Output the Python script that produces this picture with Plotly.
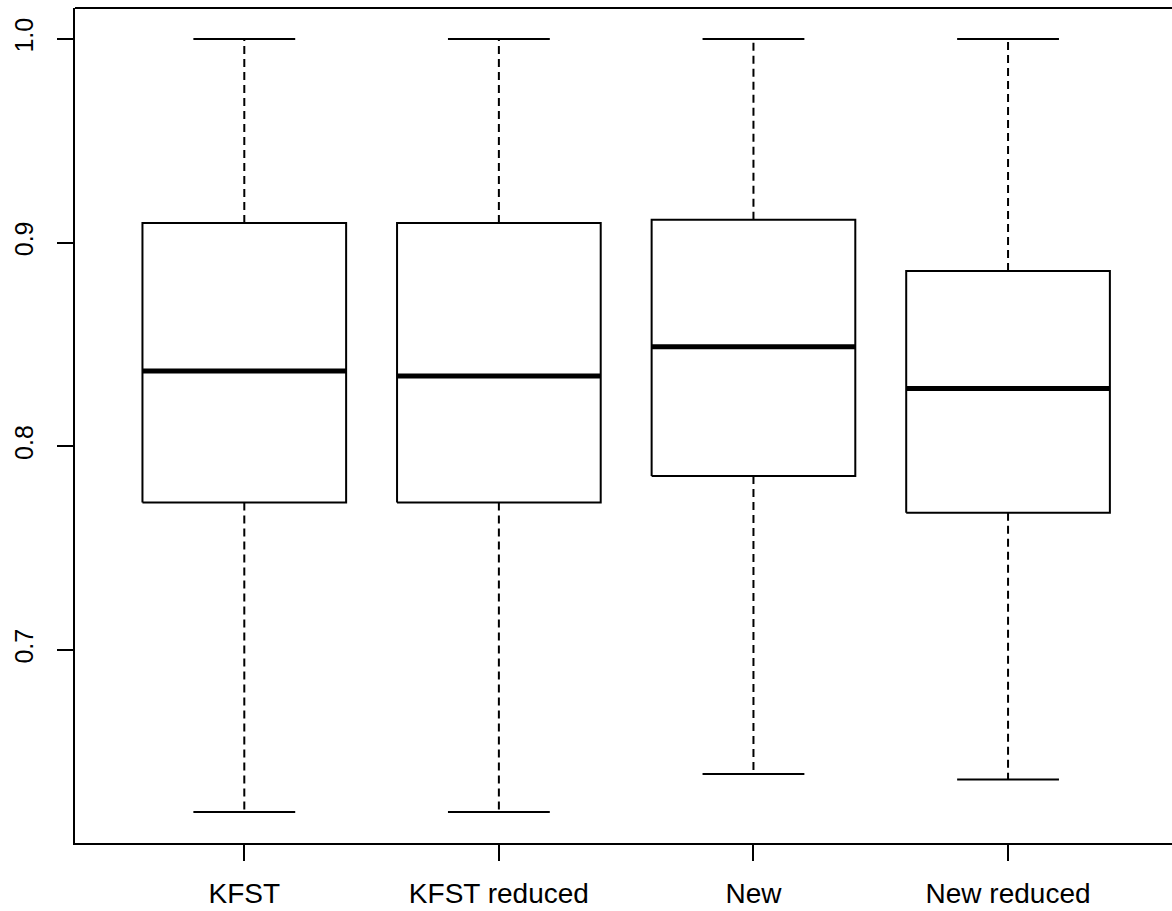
import plotly.graph_objects as go

categories = ["KFST", "KFST reduced", "New", "New reduced"]
lower_whisker = [0.6204, 0.6204, 0.6391, 0.6364]
q1_values = [0.7724, 0.7724, 0.7854, 0.7674]
median_values = [0.8369, 0.8345, 0.8489, 0.8284]
q3_values = [0.9096, 0.9096, 0.9112, 0.8861]
upper_whisker = [1.0, 1.0, 1.0, 1.0]
y_tick_values = [0.7, 0.8, 0.9, 1.0]
y_tick_labels = ["0.7", "0.8", "0.9", "1.0"]

BOX_HALF = 0.4
CAP_HALF = 0.2
positions = list(range(1, len(categories) + 1))

box_x, box_y = [], []
med_x, med_y = [], []
wh_x, wh_y = [], []
cap_x, cap_y = [], []
for p, lo, a, m, b, hi in zip(positions, lower_whisker, q1_values, median_values, q3_values, upper_whisker):
    box_x += [p - BOX_HALF, p + BOX_HALF, p + BOX_HALF, p - BOX_HALF, p - BOX_HALF, None]
    box_y += [a, a, b, b, a, None]
    med_x += [p - BOX_HALF, p + BOX_HALF, None]
    med_y += [m, m, None]
    wh_x += [p, p, None, p, p, None]
    wh_y += [b, hi, None, a, lo, None]
    cap_x += [p - CAP_HALF, p + CAP_HALF, None, p - CAP_HALF, p + CAP_HALF, None]
    cap_y += [hi, hi, None, lo, lo, None]

fig = go.Figure()
fig.add_trace(go.Scatter(x=wh_x, y=wh_y, mode="lines",
                         line=dict(color="black", width=2, dash="8px,5px"),
                         hoverinfo="skip", showlegend=False))
fig.add_trace(go.Scatter(x=cap_x, y=cap_y, mode="lines",
                         line=dict(color="black", width=2),
                         hoverinfo="skip", showlegend=False))
fig.add_trace(go.Scatter(x=box_x, y=box_y, mode="lines", fill="toself",
                         fillcolor="white",
                         line=dict(color="black", width=2),
                         hoverinfo="skip", showlegend=False))
fig.add_trace(go.Scatter(x=med_x, y=med_y, mode="lines",
                         line=dict(color="black", width=5),
                         hoverinfo="skip", showlegend=False))

lo_all, hi_all = min(lower_whisker), max(upper_whisker)
pad = 0.04 * (hi_all - lo_all)

fig.update_layout(
    width=1172, height=911,
    margin=dict(l=75, r=0, t=8, b=68, autoexpand=False),
    paper_bgcolor="white", plot_bgcolor="white",
    font=dict(family="Liberation Sans, Arial, sans-serif", size=25, color="black"),
    showlegend=False,
    xaxis=dict(
        range=[0.335, 4.644], automargin=False,
        tickmode="array", tickvals=positions, ticktext=categories,
        tickfont=dict(size=28),
        ticks="outside", ticklen=16, tickwidth=2, tickcolor="black",
        showline=True, linecolor="black", linewidth=2, mirror=False,
        showgrid=False, zeroline=False, ticklabelstandoff=8,
    ),
    yaxis=dict(
        range=[lo_all - pad, hi_all + pad], automargin=False,
        tickmode="array", tickvals=y_tick_values, ticktext=y_tick_labels,
        tickangle=-90, tickfont=dict(size=25),
        ticks="outside", ticklen=16, tickwidth=2, tickcolor="black",
        showline=True, linecolor="black", linewidth=2, mirror=False,
        showgrid=False, zeroline=False, ticklabelstandoff=14,
    ),
    shapes=[dict(type="line", xref="paper", yref="paper", x0=0, x1=1.01, y0=1, y1=1,
                 line=dict(color="black", width=2), layer="above")],
)

fig.write_html(
    "out.html",
    config={"displayModeBar": False, "staticPlot": True},
    post_script="document.body.style.margin='0';document.body.style.overflow='hidden';",
)
